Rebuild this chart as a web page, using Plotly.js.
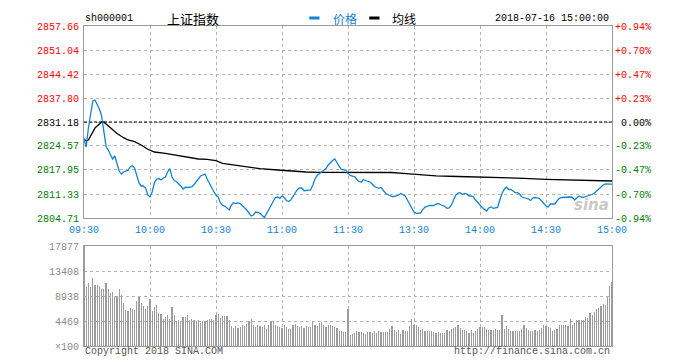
<!DOCTYPE html>
<html><head><meta charset="utf-8">
<script src="https://cdn.plot.ly/plotly-3.0.1.min.js"></script>
<style>html,body{margin:0;padding:0;background:#fff}#c{width:700px;height:363px}</style>
</head><body><div id="c"></div>
<script>
const code = "sh000001";
const indexName = "上证指数";
const stamp = "2018-07-16 15:00:00";
const prevClose = 2831.18;
const timeLabels = ["09:30","10:00","10:30","11:00","11:30","13:30","14:00","14:30","15:00"];
const timeTickMinutes = [0,30,60,90,120,150,180,210,240];
const priceTicks = [2804.71,2811.33,2817.95,2824.57,2831.18,2837.80,2844.42,2851.04,2857.66];
const pctLabels = ["-0.94%","-0.70%","-0.47%","-0.23%","0.00%","+0.23%","+0.47%","+0.70%","+0.94%"];
const volTicks = [0,4469,8938,13408,17877];
const volTickLabels = ["×100","4469","8938","13408","17877"];

// price per trading minute (index = minutes since 09:30, lunch removed)
const price = [
2826.50,2824.29,2829.53,2833.12,2836.98,2837.25,2836.15,2834.77,2832.84,2828.43,
2824.57,2823.46,2822.08,2820.98,2821.81,2819.60,2817.67,2816.84,2817.40,2817.67,
2817.81,2818.78,2819.19,2818.50,2816.02,2814.36,2813.54,2813.54,2812.98,2811.05,
2810.50,2811.96,2814.36,2815.47,2815.60,2815.19,2815.74,2816.02,2817.40,2818.31,
2816.02,2815.05,2814.78,2814.22,2813.54,2812.71,2813.18,2813.12,2813.18,2813.26,
2813.95,2814.64,2815.47,2816.29,2816.57,2816.84,2815.47,2814.22,2813.26,2812.02,
2811.05,2810.50,2808.85,2808.16,2808.02,2807.47,2806.92,2808.30,2808.93,2808.71,
2808.85,2808.71,2808.16,2807.47,2806.92,2806.09,2805.26,2805.54,2806.36,2806.23,
2806.01,2805.40,2804.85,2805.95,2807.05,2808.02,2809.12,2810.36,2810.50,2810.14,
2810.78,2810.36,2809.54,2809.26,2809.67,2810.64,2811.74,2812.57,2812.98,2812.98,
2812.24,2812.24,2812.24,2812.43,2813.81,2815.47,2816.43,2816.98,2817.40,2817.95,
2818.36,2819.33,2820.02,2820.57,2820.98,2819.79,2818.91,2818.09,2817.95,2817.95,
2816.98,2816.43,2816.29,2816.15,2815.33,2814.78,2814.64,2815.33,2815.05,2814.78,
2814.64,2814.09,2813.40,2813.12,2812.90,2813.12,2812.29,2811.60,2811.19,2810.92,
2810.64,2810.64,2810.78,2811.05,2811.47,2811.19,2810.78,2809.67,2808.43,2807.19,
2806.36,2806.01,2806.01,2806.09,2807.05,2807.74,2807.94,2808.16,2808.16,2808.16,
2808.57,2808.71,2808.43,2808.21,2807.88,2807.39,2807.47,2808.30,2809.95,2811.05,
2811.60,2811.69,2811.19,2811.47,2811.33,2810.78,2810.78,2810.50,2809.67,2808.85,
2808.30,2807.61,2807.05,2806.64,2807.47,2807.74,2807.39,2807.47,2807.61,2809.67,
2811.47,2812.57,2813.26,2812.57,2812.57,2812.16,2811.69,2811.69,2811.33,2810.50,
2810.36,2810.23,2809.95,2809.54,2810.23,2810.36,2810.23,2810.09,2809.40,2808.57,
2808.02,2807.74,2808.57,2808.57,2808.57,2809.40,2810.14,2810.36,2810.42,2810.58,
2810.58,2810.50,2810.42,2809.67,2810.23,2810.78,2810.50,2810.42,2810.64,2810.78,
2810.92,2811.19,2811.60,2812.16,2812.85,2813.26,2813.81,2814.09,2814.09,2814.09,
2814.04];

const avgMinutes = [0,1,2,3,5,7,8,9,11,13,15,18,20,23,26,29,32,37,41,46,52,56,60,63,68,74,80,88,94,101,107,120,130,140,145,150,160,170,180,190,200,210,220,230,240];
const avgValues = [2826.50,2825.95,2826.22,2827.32,2829.53,2830.63,2831.19,2831.19,2830.08,2829.12,
2828.01,2826.86,2826.22,2825.75,2824.84,2823.66,2822.91,2822.55,2822.08,2821.62,
2820.98,2820.90,2820.51,2819.80,2819.33,2818.86,2818.31,2817.95,2817.67,2817.40,
2817.31,2817.31,2817.31,2817.26,2817.04,2816.79,2816.35,2816.16,2816.02,2815.82,
2815.66,2815.38,2815.19,2815.05,2814.91];

// volume per minute, units of 100
const volume = [17877,
10490,11324,10490,12158,10966,10847,10668,10132,10132,11324,
10132,9476,9655,8761,8880,10132,9178,7748,6377,6198,
6794,6675,6377,7986,8761,7748,7152,6675,7152,8463,
6198,6973,7390,5960,5781,4887,5185,5602,4887,6973,
5483,4530,4589,4410,5185,5185,5483,4589,4768,4589,
4410,4589,4172,4410,4410,4589,4887,4768,4589,5602,
5781,5006,5364,5364,5364,4589,3576,3218,3576,3218,
3397,3814,3576,3993,4410,4887,3814,3397,3695,3576,
3397,3695,2980,3695,4410,4410,3814,3576,3397,3218,
3695,3397,2980,2980,3814,3993,3576,3397,3576,3218,
3576,3397,3397,4410,3814,3576,4172,4291,3814,3397,
3814,3814,3576,3397,3218,2622,2622,2503,2503,6675,
2026,2205,2384,2622,2503,2503,2384,2205,2503,2503,
2384,2622,2384,2622,2503,2503,2503,2503,2980,3576,
2801,2503,2801,2205,2801,2622,2622,3576,4768,3814,
3695,3397,2801,2980,2622,2622,2622,2622,2503,2384,
2503,2384,2384,2384,2801,2622,2980,3218,3397,3695,
3218,2801,2801,2622,2384,2801,2384,2622,2980,3397,
3397,3397,2980,2801,2801,2801,2980,2801,2801,5483,
2980,3576,2980,2622,2622,2622,2622,2622,3099,3695,
3218,2801,2622,2622,2801,2622,2801,3218,3814,3576,
3397,3218,2622,2801,2980,3695,3695,3695,3695,3576,
4768,3814,4172,4589,4589,4589,4589,5185,5006,5960,
5602,6079,6675,6794,7152,7569,7390,8761,10668,11500];

const minuteIdx = price.map((_, i) => i);
const volIdx = volume.map((_, i) => i);

const MONO = "Liberation Mono, DejaVu Sans Mono, monospace";
const CJK = "Noto Sans CJK SC, sans-serif";
const BLUE = "#1383d3";
const GRID = "#b4b4b4";
const FRAME = "#9a9a9a";

function col(v){ return v > prevClose + 0.001 ? "#ff0000" : (v < prevClose - 0.001 ? "#008000" : "#000000"); }
const leftText = priceTicks.map(v => `<span style="fill:${col(v)}">${v.toFixed(2)}</span>`);
const rightText = priceTicks.map((v, i) => `<span style="fill:${col(v)}">${pctLabels[i].length < 6 ? "\u00a0" : ""}${pctLabels[i]}</span>`);

const traces = [
  {x:[0,240], y:[prevClose,prevClose], xaxis:"x", yaxis:"y", mode:"lines",
   line:{color:"#000", width:1, dash:"3px,2px"}, hoverinfo:"skip"},
  {x:avgMinutes, y:avgValues, xaxis:"x", yaxis:"y", mode:"lines",
   line:{color:"#000", width:1.3}, hoverinfo:"skip"},
  {x:minuteIdx, y:price, xaxis:"x", yaxis:"y", mode:"lines",
   line:{color:BLUE, width:1.3}, hoverinfo:"skip"},
  {x:[0,240], y:[priceTicks[0],priceTicks[0]], xaxis:"x", yaxis:"y2", mode:"lines",
   line:{width:0}, hoverinfo:"skip", showlegend:false},
  {x:volIdx, y:volume, xaxis:"x2", yaxis:"y3", type:"bar",
   width:0.5, marker:{color:"#9c9c9c", line:{width:0}}, hoverinfo:"skip"}
];

const ax = {
  range:[0,240], tickvals:timeTickMinutes, ticktext:timeLabels,
  showgrid:true, gridcolor:GRID, griddash:"dot", gridwidth:1,
  zeroline:false, showline:true, mirror:true, linecolor:FRAME, linewidth:1,
  ticks:"", fixedrange:true
};

const layout = {
  width:700, height:363, paper_bgcolor:"#fff", plot_bgcolor:"#fff",
  margin:{l:84, r:88, t:26, b:17}, showlegend:false, bargap:0,
  xaxis:Object.assign({}, ax, {domain:[0,1], anchor:"y",
    tickfont:{family:MONO, size:10, color:BLUE}, ticklabelstandoff:2}),
  yaxis:{domain:[0.4,1], anchor:"x", range:[priceTicks[0], priceTicks[8]],
    tickvals:priceTicks, ticktext:leftText, showgrid:true, gridcolor:GRID, griddash:"dot",
    zeroline:false, showline:true, mirror:true, linecolor:FRAME, ticks:"",
    tickfont:{family:MONO, size:10, color:"#000"}, ticklabelstandoff:2},
  yaxis2:{overlaying:"y", side:"right", anchor:"x", range:[priceTicks[0], priceTicks[8]],
    tickvals:priceTicks, ticktext:rightText, showgrid:false, zeroline:false, showline:false, ticks:"",
    tickfont:{family:MONO, size:10, color:"#000"}, ticklabelstandoff:2},
  xaxis2:Object.assign({}, ax, {domain:[0,1], anchor:"y3", showticklabels:false}),
  yaxis3:{domain:[0,0.3125], anchor:"x2", range:[0,volTicks[4]], tickvals:volTicks, ticktext:volTickLabels,
    showgrid:true, gridcolor:GRID, griddash:"dot", zeroline:false, showline:true, mirror:true,
    linecolor:FRAME, ticks:"", tickfont:{family:MONO, size:10, color:"#8a8a8a"}, ticklabelstandoff:2},
  shapes:[
    {type:"line", xref:"paper", yref:"paper", x0:0.4267, x1:0.4460, y0:1.025, y1:1.025, line:{color:BLUE, width:3}},
    {type:"line", xref:"paper", yref:"paper", x0:0.5403, x1:0.5597, y0:1.025, y1:1.025, line:{color:"#000", width:3}}
  ],
  annotations:[
    {text:code, xref:"paper", yref:"paper", x:-0.001, y:1.022, xanchor:"left", yanchor:"middle", showarrow:false, font:{family:MONO, size:10, color:"#000"}},
    {text:indexName, xref:"paper", yref:"paper", x:0.1534, y:1.025, xanchor:"left", yanchor:"middle", showarrow:false, font:{family:CJK, size:13, color:"#000"}},
    {text:"价格", xref:"paper", yref:"paper", x:0.4669, y:1.025, xanchor:"left", yanchor:"middle", showarrow:false, font:{family:CJK, size:12, color:BLUE}},
    {text:"均线", xref:"paper", yref:"paper", x:0.5795, y:1.025, xanchor:"left", yanchor:"middle", showarrow:false, font:{family:CJK, size:12, color:"#000"}},
    {text:stamp, xref:"paper", yref:"paper", x:0.999, y:1.024, xanchor:"right", yanchor:"middle", showarrow:false, font:{family:MONO, size:10, color:"#000"}},
    {text:"Copyright 2018 SINA.COM", xref:"paper", yref:"paper", x:-0.001, y:-0.018, xanchor:"left", yanchor:"middle", showarrow:false, font:{family:MONO, size:10, color:"#555"}},
    {text:"http://finance.sina.com.cn", xref:"paper", yref:"paper", x:1.0, y:-0.018, xanchor:"right", yanchor:"middle", showarrow:false, font:{family:MONO, size:10, color:"#555"}},
    {text:"<b><i>sina</i></b>", xref:"paper", yref:"paper", x:0.962, y:0.44, xanchor:"center", yanchor:"middle", showarrow:false, font:{family:"DejaVu Sans, sans-serif", size:15, color:"#c9c9c9"}}
  ]
};

Plotly.newPlot("c", traces, layout, {staticPlot:true, displayModeBar:false});
</script>
</body></html>
